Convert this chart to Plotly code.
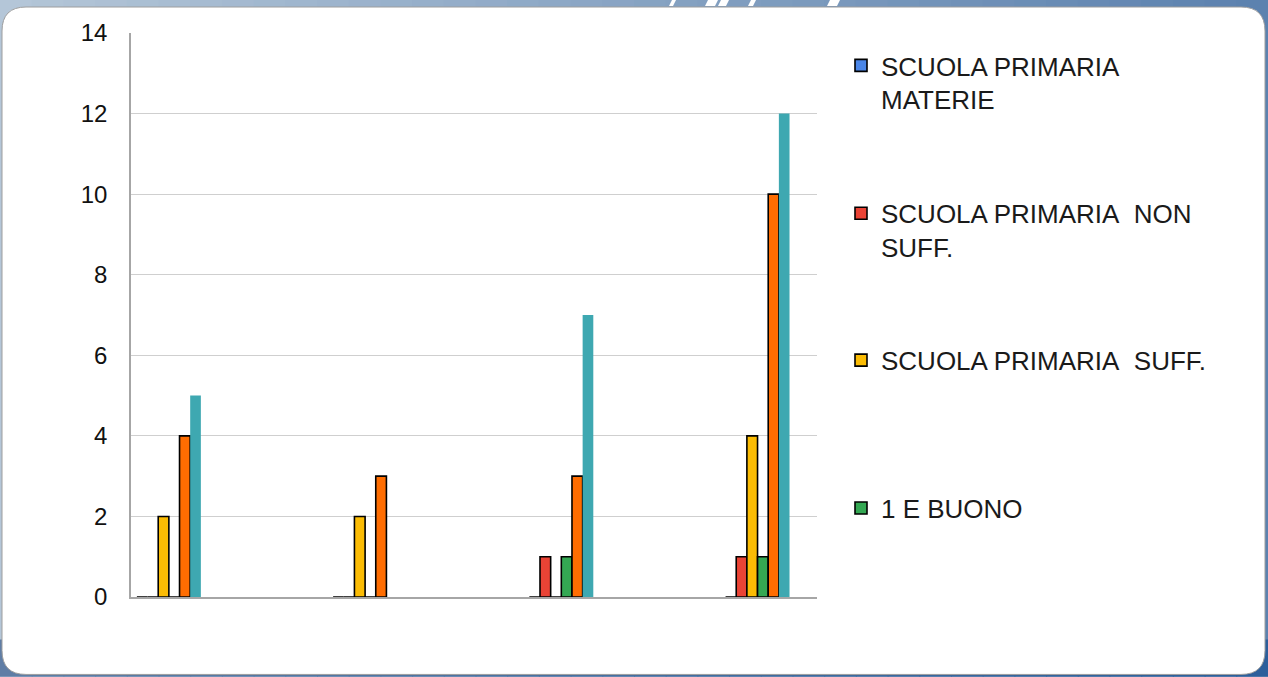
import plotly.graph_objects as go

# ---- data ----
categories = [1, 2, 3, 4]
series_names = ["SCUOLA PRIMARIA<br>MATERIE", "SCUOLA PRIMARIA\u00a0 NON<br>SUFF.",
                "SCUOLA PRIMARIA\u00a0 SUFF.", "1 E BUONO", "Serie 5", "Serie 6"]
blue_vals = [0, 0, 0, 0]
red_vals = [0, 0, 1, 1]
yellow_vals = [2, 2, 0, 4]
green_vals = [0, 0, 1, 1]
orange_vals = [4, 3, 3, 10]
teal_vals = [5, 0, 7, 12]
y_ticks = [0, 2, 4, 6, 8, 10, 12, 14]

W, H = 1268, 677
L, R, T, B = 131, 817, 33, 597.5

def px(x):
    return (x - L) / (R - L)

def py(y):
    return (B - y) / (B - T)

fig = go.Figure()
colors = ["#4A86E8", "#EA4335", "#FBBC04", "#34A853", "#FF6D01", "#3EA8B1"]
values = [blue_vals, red_vals, yellow_vals, green_vals, orange_vals, teal_vals]
legends = ["legend", "legend2", "legend3", "legend4", None, None]
for name, col, vals, lg in zip(series_names, colors, values, legends):
    is_teal = col == "#3EA8B1"
    fig.add_trace(go.Bar(
        x=[c - 1 for c in categories], y=vals, name=name,
        marker=dict(color=col,
                    line=dict(color="#3EA8B1" if is_teal else "#000000",
                              width=0 if is_teal else 1.6)),
        showlegend=lg is not None,
        legend=lg if lg else "legend",
        hoverinfo="skip",
    ))

# ---- frame decoration ----
shapes = []
n = 40
left_c = (180, 198, 216)
right_c = (92, 130, 175)
for i in range(n):
    t = i / (n - 1)
    c = tuple(int(left_c[k] + (right_c[k] - left_c[k]) * t) for k in range(3))
    x0 = W * i / n
    x1 = W * (i + 1) / n + 1
    shapes.append(dict(type="rect", xref="paper", yref="paper", layer="below",
                       x0=px(x0), x1=px(x1), y0=py(H), y1=py(0),
                       line=dict(width=0), fillcolor="rgb(%d,%d,%d)" % c))
for i in range(n):
    t = i / (n - 1)
    c = tuple(int(v) for v in ((95 - 50 * t), (125 - 30 * t), (165 - 10 * t)))
    x0 = W * i / n
    x1 = W * (i + 1) / n + 1
    shapes.append(dict(type="rect", xref="paper", yref="paper", layer="below",
                       x0=px(x0), x1=px(x1), y0=py(H), y1=py(640),
                       line=dict(width=0), fillcolor="rgb(%d,%d,%d)" % c))
# white rounded panel
x0, x1, y0, y1, r = 2, 1265, 7, 675, 24
path = (f"M{px(x0 + r)},{py(y0)} L{px(x1 - r)},{py(y0)} Q{px(x1)},{py(y0)} {px(x1)},{py(y0 + r)} "
        f"L{px(x1)},{py(y1 - r)} Q{px(x1)},{py(y1)} {px(x1 - r)},{py(y1)} "
        f"L{px(x0 + r)},{py(y1)} Q{px(x0)},{py(y1)} {px(x0)},{py(y1 - r)} "
        f"L{px(x0)},{py(y0 + r)} Q{px(x0)},{py(y0)} {px(x0 + r)},{py(y0)} Z")
shapes.append(dict(type="path", xref="paper", yref="paper", layer="below", path=path,
                   fillcolor="white", line=dict(color="#9E9E9E", width=1)))
for a, b in [(670, 674), (706, 716), (719, 727), (749, 754), (828, 838)]:
    p = (f"M{px(a + 2)},{py(0)} L{px(b + 2)},{py(0)} L{px(b - 1)},{py(6)} L{px(a - 1)},{py(6)} Z")
    shapes.append(dict(type="path", xref="paper", yref="paper", layer="below", path=p,
                       fillcolor="white", line=dict(width=0)))

leg_common = dict(x=px(841), xanchor="left", yanchor="top", valign="top",
                  bgcolor="rgba(0,0,0,0)", borderwidth=0,
                  font=dict(family="Liberation Sans, Arial", size=26, color="#1a1a1a"),
                  itemwidth=30)
leg_tops = [42, 190, 337, 485]

fig.update_layout(
    width=W, height=H,
    margin=dict(l=L, r=W - R, t=T, b=H - B, pad=0),
    paper_bgcolor="#7F9CBF",
    plot_bgcolor="white",
    barmode="group", bargap=0.674, bargroupgap=0,
    shapes=shapes,
    xaxis=dict(type="linear", range=[-0.193, 3.303], showticklabels=False, showgrid=False,
               zeroline=False, showline=True, linecolor="#A6A6A6", linewidth=1.5, ticks=""),
    yaxis=dict(range=[0, 14], tickvals=y_ticks, showgrid=True, gridcolor="#CFCFCF", gridwidth=1.3,
               zeroline=False, showline=True, linecolor="#A6A6A6", linewidth=1.5, ticks="",
               ticklabelstandoff=17,
               tickfont=dict(family="Liberation Sans, Arial", size=24, color="#111111")),
    legend=dict(y=py(leg_tops[0]), **leg_common),
    legend2=dict(y=py(leg_tops[1]), **leg_common),
    legend3=dict(y=py(leg_tops[2]), **leg_common),
    legend4=dict(y=py(leg_tops[3]), **leg_common),
)

fig.write_html("out.html", config={"displayModeBar": False},
               post_script="document.body.style.margin='0';")
